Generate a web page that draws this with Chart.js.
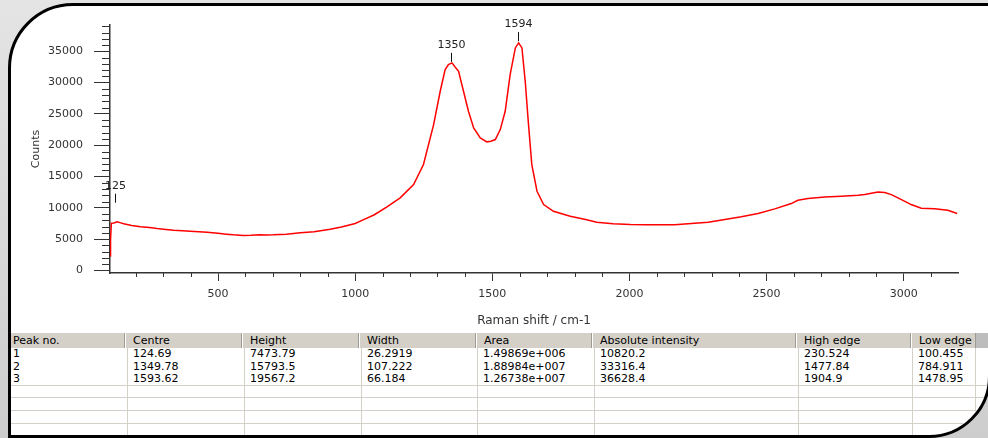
<!DOCTYPE html>
<html>
<head>
<meta charset="utf-8">
<script src="https://cdn.jsdelivr.net/npm/chart.js@4.4.0/dist/chart.umd.min.js"></script>
<style>
html, body { margin: 0; padding: 0; }
body {
    width: 988px; height: 438px; overflow: hidden; position: relative;
    background: linear-gradient(180deg, #e4e4e4, #cdcdcd);
    font-family: "DejaVu Sans", sans-serif;
}
#frame {
    position: absolute; left: 8px; top: 3px; width: 983px; height: 435px;
    box-sizing: border-box; border: 3px solid #000;
    border-radius: 65px 0 62px 0;
    background: #fff; overflow: hidden;
}
#chartBox { position: absolute; left: -11px; top: -6px; width: 988px; height: 332px; }
#peakTable { position: absolute; left: -3px; top: 327px; font-size: 11px; color: #000; }
.row { display: flex; box-sizing: border-box; }
.row.head { height: 15px; line-height: 15px; background: #d4d0c8; }
.row.body { height: 12.6px; line-height: 12.6px; }
.row.lined { border-bottom: 1px solid #d4d0c8; }
.hcell, .cell { box-sizing: border-box; white-space: nowrap; overflow: hidden; }
.hcell { border-right: 1px solid #9d9a93; box-shadow: inset 1px 0 #fff; padding-left: 8px; }
.hcell:first-child { padding-left: 5px; }
.cell { border-right: 1px solid #d4d0c8; padding-left: 5px; }
.hcell.pad { background: #bdbdbd; border: none; box-shadow: none; }
</style>
</head>
<body>

<div id="frame">
    <div id="chartBox"><canvas id="ramanChart"></canvas></div>
    <div id="peakTable"></div>
</div>

<script>
/* =========================
   SPECTRUM DATA
========================= */

const shiftCm = [
    107, 108, 111, 120, 132, 145, 156, 185, 217, 250,
    278, 310, 338, 370, 399, 430, 460, 500, 530, 556,
    592, 620, 650, 680, 701, 750, 800, 850, 909, 950,
    1000, 1031, 1070, 1116, 1164, 1213, 1249, 1286, 1310, 1328,
    1340, 1353, 1365, 1377, 1395, 1413, 1432, 1456, 1480, 1495,
    1511, 1529, 1547, 1565, 1584, 1596, 1608, 1620, 1632, 1644,
    1663, 1687, 1723, 1784, 1840, 1881, 1940, 2003, 2060, 2112,
    2165, 2226, 2287, 2348, 2408, 2469, 2530, 2590, 2614, 2651,
    2712, 2773, 2834, 2858, 2906, 2931, 2955, 2979, 3015, 3027,
    3064, 3113, 3161, 3195
];

const counts = [
    2300, 4900, 7550, 7600, 7770, 7600, 7450, 7200, 6970, 6850,
    6700, 6560, 6430, 6350, 6270, 6200, 6110, 5950, 5800, 5690,
    5580, 5620, 5720, 5680, 5690, 5800, 6010, 6200, 6600, 6950,
    7500, 8130, 8900, 10160, 11600, 13730, 16920, 23300, 28620, 32080,
    32880, 33150, 32450, 31810, 28620, 25420, 22770, 21180, 20540, 20640,
    20910, 22500, 25420, 31280, 35540, 36340, 35540, 30210, 23300, 16920,
    12660, 10530, 9460, 8670, 8140, 7700, 7450, 7340, 7300, 7290,
    7290, 7500, 7700, 8140, 8570, 9090, 9840, 10690, 11220, 11480,
    11750, 11860, 12010, 12120, 12550, 12440, 12120, 11600, 10800, 10530,
    9930, 9840, 9620, 9090
];

// axis ticks
const xTickValues = [500, 1000, 1500, 2000, 2500, 3000];
const yTickValues = [0, 5000, 10000, 15000, 20000, 25000, 30000, 35000];

/* =========================
   PEAK TABLE DATA
========================= */

const columnNames = ["Peak no.", "Centre", "Height", "Width", "Area",
                     "Absolute intensity", "High edge", "Low edge"];

const peakNo = [1, 2, 3];
const peakCentre = [124.69, 1349.78, 1593.62];
const peakHeight = [7473.79, 15793.5, 19567.2];
const peakWidth = [26.2919, 107.222, 66.184];
const peakArea = [1.49869e6, 1.88984e7, 1.26738e7];
const peakAbsIntensity = [10820.2, 33316.4, 36628.4];
const peakHighEdge = [230.524, 1477.84, 1904.9];
const peakLowEdge = [100.455, 784.911, 1478.95];

const emptyRows = 4;


/* =========================
   TABLE
========================= */

function sci(v){
    let parts = v.toExponential(5).split("e");
    let exp = parts[1];
    return parts[0] + "e" + exp[0] + exp.slice(1).padStart(3, "0");
}

const headWidths = [117, 117, 117, 117, 116, 204, 115, 65];
const cellWidths = [120, 117, 117, 116, 117, 204, 114, 63];

function buildTable(){

    let table = document.getElementById("peakTable");

    let head = document.createElement("div");
    head.className = "row head";
    columnNames.forEach(function(name, i){
        let c = document.createElement("div");
        c.className = "hcell";
        c.style.width = headWidths[i] + "px";
        c.textContent = name;
        head.appendChild(c);
    });
    let pad = document.createElement("div");
    pad.className = "hcell pad";
    pad.style.width = "20px";
    head.appendChild(pad);
    table.appendChild(head);

    for(let r = 0; r < peakNo.length + emptyRows; r++){

        let row = document.createElement("div");
        row.className = "row body";
        if(r >= peakNo.length - 1) row.className += " lined";

        let values = r < peakNo.length ? [
            peakNo[r], peakCentre[r], peakHeight[r], peakWidth[r],
            sci(peakArea[r]), peakAbsIntensity[r], peakHighEdge[r], peakLowEdge[r]
        ] : ["", "", "", "", "", "", "", ""];

        values.forEach(function(v, i){
            let c = document.createElement("div");
            c.className = "cell";
            c.style.width = cellWidths[i] + "px";
            c.textContent = String(v);
            row.appendChild(c);
        });

        table.appendChild(row);
    }
}

buildTable();


/* =========================
   MINOR TICKS + PEAK MARKERS
========================= */

const ramanExtras = {
    id: 'ramanExtras',

    afterDraw(chart){

        const { ctx, chartArea: { left, bottom }, scales: { x, y } } = chart;

        ctx.save();

        // minor ticks
        ctx.strokeStyle = '#333';
        ctx.lineWidth = 1;
        ctx.beginPath();

        for(let v = 1000; v <= 39000; v += 1000){
            if(v % 5000 === 0) continue;
            let py = Math.round(y.getPixelForValue(v)) + 0.5;
            ctx.moveTo(left - 8, py);
            ctx.lineTo(left, py);
        }

        for(let v = 200; v <= 3100; v += 100){
            if(v % 500 === 0) continue;
            let px = Math.round(x.getPixelForValue(v)) + 0.5;
            ctx.moveTo(px, bottom);
            ctx.lineTo(px, bottom + 4);
        }
        ctx.stroke();

        // peak markers
        ctx.strokeStyle = '#111';
        ctx.fillStyle = '#222';
        ctx.font = '11px "DejaVu Sans"';
        ctx.textAlign = 'center';
        ctx.textBaseline = 'middle';

        for(let i = 0; i < peakCentre.length; i++){
            let px = Math.round(x.getPixelForValue(peakCentre[i])) + 0.5;
            let py = y.getPixelForValue(peakAbsIntensity[i]);

            ctx.beginPath();
            ctx.moveTo(px, py);
            ctx.lineTo(px, py - 9);
            ctx.stroke();

            ctx.fillText(String(Math.round(peakCentre[i])), px, py - 16.5);
        }

        ctx.restore();
    }
};


/* =========================
   CHART
========================= */

const points = shiftCm.map(function(s, i){
    return { x: s, y: counts[i] };
});

function plainLabel(value){
    return String(value);
}

const chart = new Chart(document.getElementById('ramanChart'), {

    type: 'line',

    data: {
        datasets: [{
            data: points,
            borderColor: '#ff0000',
            borderWidth: 1.5,
            pointRadius: 0,
            tension: 0,
            fill: false
        }]
    },

    options: {
        responsive: true,
        maintainAspectRatio: false,
        animation: false,
        events: [],

        layout: {
            padding: { left: 26, top: 25, right: 30, bottom: 0 }
        },

        plugins: {
            legend: { display: false },
            tooltip: { enabled: false }
        },

        scales: {
            x: {
                type: 'linear',
                position: 'bottom',
                min: 106,
                max: 3198,
                afterBuildTicks(scale){
                    scale.ticks = xTickValues.map(v => ({ value: v }));
                },
                afterFit(scale){ scale.height = 59; },
                border: { display: true, color: '#333', width: 1.5 },
                grid: {
                    drawOnChartArea: false,
                    tickLength: 8,
                    tickColor: '#333'
                },
                ticks: {
                    maxRotation: 0,
                    autoSkip: false,
                    padding: 7,
                    color: '#333',
                    font: { family: 'DejaVu Sans', size: 11 },
                    callback: plainLabel
                },
                title: {
                    display: true,
                    text: 'Raman shift / cm-1',
                    color: '#333',
                    font: { family: 'DejaVu Sans', size: 12 }
                }
            },

            y: {
                min: -400,
                max: 39200,
                afterBuildTicks(scale){
                    scale.ticks = yTickValues.map(v => ({ value: v }));
                },
                afterFit(scale){ scale.width = 84; },
                border: { display: true, color: '#333', width: 1.5 },
                grid: {
                    drawOnChartArea: false,
                    tickLength: 16,
                    tickColor: '#333'
                },
                ticks: {
                    autoSkip: false,
                    padding: 11,
                    color: '#333',
                    font: { family: 'DejaVu Sans', size: 11 },
                    callback: plainLabel
                },
                title: {
                    display: true,
                    text: 'Counts',
                    color: '#333',
                    font: { family: 'DejaVu Sans', size: 11 }
                }
            }
        }
    },

    plugins: [ramanExtras]
});
</script>
</body>
</html>
